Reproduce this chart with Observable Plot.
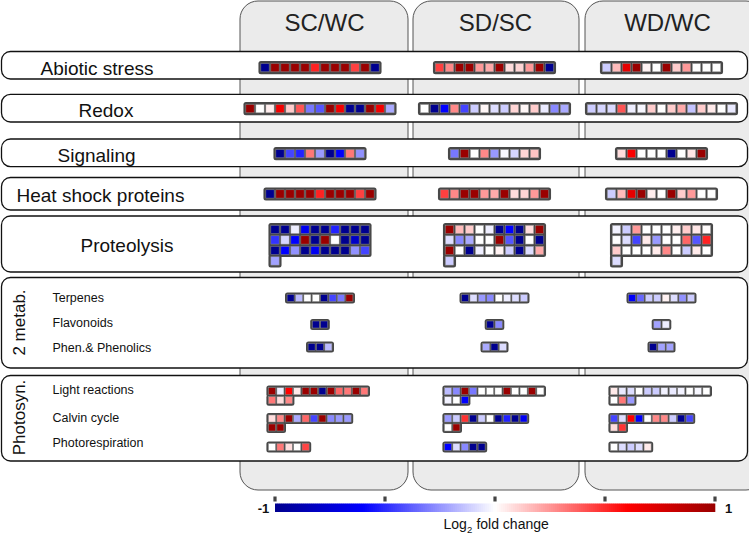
<!DOCTYPE html>
<html><head><meta charset="utf-8">
<script src="https://cdn.jsdelivr.net/npm/d3@7"></script>
<script src="https://cdn.jsdelivr.net/npm/@observablehq/plot@0.6"></script>
<style>body{margin:0;background:#fff;} svg{display:block;}</style>
</head><body><div id="chart"></div>
<script>
// ---------- data ----------
const columns = ["SC/WC", "SD/SC", "WD/WC"];
const categories = ["Abiotic stress", "Redox", "Signaling", "Heat shock proteins", "Proteolysis",
  "Terpenes", "Flavonoids", "Phen.& Phenolics", "Light reactions", "Calvin cycle", "Photorespiration"];
const groupLabels = ["2 metab.", "Photosyn."];
const colorTicks = [-1, -0.5, 0, 0.5, 1];
const colorTickLabels = ["-1", "1"];
const colorTitleParts = ["Log", "2", " fold change"];

// log2 fold change per gene, one array per comparison (SC/WC, SD/SC, WD/WC)
const abioticStress = [
  [-1, 1, 1, 1, 1, 0.52, 1, 1, 1, 0.45, 1, -1],
  [0.45, 0.28, 1, 1, 0.24, 0.2, 1, 0.08, 0.1, 0.24, 1, -1],
  [-0.12, 0.16, 0.7, 1, 0.03, 0, 1, 0.12, 0.24, 0, 0, 0]
];
const redox = [
  [1, 0, 0.04, 0.65, 0.12, 0.4, -0.32, -0.4, 1, 0.65, -1, -1, 1, 0.65, -0.2],
  [0, -1, -0.6, 0.28, -0.44, -0.12, 0.02, -0.08, -0.12, 0.1, 0.02, 0.12, -0.05, -0.28, -0.2],
  [-0.12, -0.1, -0.09, 0.4, -0.04, -0.02, 0.12, 0, 0.12, 0.2, -0.14, 0.12, 0.05, 0, -0.05]
];
const signaling = [
  [-1, -0.44, -0.52, 0.32, -0.24, -1, -0.62, 0.32, -0.26],
  [-0.32, 1, 0, 0.28, -0.24, -0.02, -0.1, 0.1, 0.14],
  [0.08, 0.62, 0, 0, 0, -1, 0, 0.06, 1]
];
const heatShockProteins = [
  [-1, 1, 1, 1, 1, 0.52, 1, 1, 1, 0.45, 1],
  [0.45, 0.28, 1, 1, 0.24, 0.2, 1, 0.08, 0.1, 0.24, 1],
  [-0.12, 0.16, 0.7, 1, 0.04, 0, 1, 0.12, 0.24, 0, 0]
];
const proteolysis = [
  [-1, -1, -0.04, -0.65, -1, -1, -0.52, -1, -1, -1,
   -0.48, -0.1, -0.6, 1, -1, 1, 0, -1, -0.8, -1,
   -1, -0.6, -0.26, -1, -0.65, -1, -1, -1, -0.26, -0.44,
   -0.22],
  [1, 0.16, 0.12, 0, -0.04, -1, -0.6, -1, 0.08, 1,
   -0.08, -0.28, -0.2, 0, 0, 1, -0.4, -1, 0, -1,
   1, 0, -1, -0.04, 0, 0.03, -0.12, -1, -0.08, 0.2,
   -0.12],
  [-0.03, -0.12, 0.24, 0, 0, 0, 0.04, 0.12, 0.06, 0.01,
   0, -0.08, -0.44, 0.05, -0.24, 0, 0, 0.36, -0.4, 0.52,
   0.12, 0, 0, 0, 0.05, 0.28, 0, -0.12, 0.05, 0,
   -0.08]
];
const terpenes = [
  [-1, -0.16, 0, 0, -1, -0.44, -0.32, 1],
  [-1, -0.08, -0.24, -0.28, 0, -0.04, -0.08, -0.12],
  [-0.62, -0.36, -0.12, -0.12, 0.03, -0.08, -0.26, -0.12]
];
const flavonoids = [[-1, -1], [-1, -0.28], [-0.22, -0.04]];
const phenolics = [[-1, -1, -0.16], [-0.2, -1, -0.08], [-1, -0.22, -0.22]];
const lightReactions = [
  [1, -0.04, 0.6, 0.05, 1, 1, -1, 1, 0.36, 0.32, 1, 0.32, 0.32, 0.08, 0.28],
  [-0.16, -0.28, 1, -0.32, 0, 0, 0, 1, 0, 0, 1, 0, -0.03, 0, -0.6],
  [0.05, -0.05, -0.08, 0, -0.12, -0.12, -0.03, -0.05, -0.03, 0, -0.02, 0, 0, 0.32, -0.24]
];
const calvinCycle = [
  [0.08, 0.28, 1, -0.2, 0.36, -0.44, 1, -0.28, -0.24, -0.24, 1, 1],
  [-0.24, -0.12, 0.48, -1, -0.12, 0, -1, -0.52, -1, -0.65, 0, 1],
  [-0.44, -0.08, 0.6, -0.6, 0, 0.28, 0.28, -0.12, -1, -0.44, 0.08, 0.48]
];
const photorespiration = [
  [0, 0.32, 0.08, 0, 0.44],
  [-0.6, -0.08, -0.28, -1, -1],
  [0, -0.08, -0.12, -0.08, 0.05]
];

// ---------- layout (positions/sizes only) ----------
const W = 749, H = 541;
const big = {pitch: 10, size: 8.3, rowPitch: 10.5, pad: 2.4};
const small = {pitch: 8.4, size: 7, rowPitch: 9, pad: 2.1};
const colCenters = [320, 494.5, 661.5];
const colLefts = [268.5, 444.5, 610.5];
const groups = [
  {values: abioticStress, top: 63.5, per: 99, s: big, align: "center"},
  {values: redox, top: 104.5, per: 99, s: big, align: "center"},
  {values: signaling, top: 149.5, per: 99, s: big, align: "center"},
  {values: heatShockProteins, top: 189.8, per: 99, s: big, align: "center"},
  {values: proteolysis, top: 225.3, per: 10, s: big, align: "center"},
  {values: terpenes, top: 294.5, per: 99, s: small, align: "center"},
  {values: flavonoids, top: 321, per: 99, s: small, align: "center"},
  {values: phenolics, top: 343.5, per: 99, s: small, align: "center"},
  {values: lightReactions, top: 387.7, per: 12, s: small, align: "left"},
  {values: calvinCycle, top: 415, per: 10, s: small, align: "left"},
  {values: photorespiration, top: 443.5, per: 5, s: small, align: "left"}
];

const cells = [], boxes = [];
groups.forEach(g => {
  g.values.forEach((vals, c) => {
    const n = vals.length, s = g.s;
    const per = Math.min(g.per, n);
    const gap = s.pitch - s.size;
    const width = per * s.pitch - gap;
    const left = g.align === "center" ? colCenters[c] - width / 2 : colLefts[c];
    const full = Math.floor(n / per), rem = n % per;
    boxes.push({x1: left - s.pad, x2: left + width + s.pad, y1: g.top - s.pad,
                y2: g.top + (full - 1) * s.rowPitch + s.size + s.pad});
    if (rem > 0) boxes.push({x1: left - s.pad, x2: left + rem * s.pitch - gap + s.pad,
                y1: g.top + (full - 1) * s.rowPitch + s.size,
                y2: g.top + full * s.rowPitch + s.size + s.pad});
    vals.forEach((v, i) => {
      const col = i % per, row = Math.floor(i / per);
      const x1 = left + col * s.pitch, y1 = g.top + row * s.rowPitch;
      cells.push({x1, x2: x1 + s.size, y1, y2: y1 + s.size, v, column: columns[c]});
    });
  });
});

const panels = columns.map((name, i) => ({name, x1: [240, 413, 585][i], x2: [408, 579, 764][i], y1: 1, y2: 490, cx: [324, 495, 667][i]}));
const rows = [
  {y1: 51.5, y2: 79}, {y1: 94.3, y2: 122}, {y1: 139, y2: 166.7}, {y1: 177.5, y2: 210},
  {y1: 216, y2: 272}, {y1: 277.5, y2: 368}, {y1: 375.5, y2: 461}
];
const bigLabels = [
  {t: categories[0], x: 40, y: 68}, {t: categories[1], x: 78, y: 110}, {t: categories[2], x: 57, y: 155},
  {t: categories[3], x: 16, y: 195}, {t: categories[4], x: 80, y: 245}
];
const smallLabels = [
  {t: categories[5], x: 52, y: 297}, {t: categories[6], x: 52, y: 322}, {t: categories[7], x: 52, y: 347},
  {t: categories[8], x: 52, y: 389}, {t: categories[9], x: 52, y: 417}, {t: categories[10], x: 52, y: 442}
];
const rotLabels = [{t: groupLabels[0], x: 19, y: 322}, {t: groupLabels[1], x: 19, y: 417}];

// colour bar
const barX0 = 275, barX1 = 715, barY0 = 503.5, barY1 = 512;
const bx = v => barX0 + (v + 1) / 2 * (barX1 - barX0);
const ramp = d3.range(0, 220).map(i => {
  const a = -1 + i * 2 / 220, b = -1 + (i + 1) * 2 / 220;
  return {x1: bx(a), x2: bx(b) + 0.3, v: (a + b) / 2};
});
const tickMarks = colorTicks.map(v => ({x: bx(v)}));
const titleX = 443;

const chart = Plot.plot({
  width: W, height: H, margin: 0,
  x: {domain: [0, W], range: [0, W], axis: null},
  y: {domain: [0, H], range: [0, H], axis: null},
  color: {type: "linear", domain: [-1, -0.6, 0, 0.6, 1],
          range: ["#00008f", "#0000ff", "#ffffff", "#ff0000", "#9a0000"], clamp: true},
  style: {fontFamily: "'Liberation Sans', Arial, sans-serif", background: "white"},
  marks: [
    Plot.rect(panels, {x1: "x1", x2: "x2", y1: "y1", y2: "y2", fill: "#ebebeb", stroke: "#555", strokeWidth: 1, rx: 18}),
    Plot.text(panels, {x: "cx", y: 23, text: "name", fontSize: 24, fill: "#222"}),
    Plot.rect(rows, {x1: 1.5, x2: 747.5, y1: "y1", y2: "y2", fill: "white", stroke: "#111", strokeWidth: 1.3, rx: 9}),
    Plot.text(bigLabels, {x: "x", y: "y", text: "t", textAnchor: "start", fontSize: 19, fill: "#111"}),
    Plot.text(smallLabels, {x: "x", y: "y", text: "t", textAnchor: "start", fontSize: 12.5, fill: "#111"}),
    Plot.text(rotLabels, {x: "x", y: "y", text: "t", rotate: -90, fontSize: 17, fill: "#111"}),
    Plot.rect(boxes, {x1: "x1", x2: "x2", y1: "y1", y2: "y2", fill: "#484848", rx: 2.5}),
    Plot.rect(cells, {x1: "x1", x2: "x2", y1: "y1", y2: "y2", fill: "v", stroke: "#8c8c8c", strokeWidth: 0.5}),
    Plot.rect(ramp, {x1: "x1", x2: "x2", y1: barY0, y2: barY1, fill: "v"}),
    Plot.rect(tickMarks, {x1: d => d.x - 1.6, x2: d => d.x + 1.6, y1: 496.5, y2: 501.5, fill: "#444"}),
    Plot.text([colorTickLabels[0]], {x: barX0 - 12, y: 508, text: d => d, fontSize: 13, fontWeight: "bold", fill: "#111"}),
    Plot.text([colorTickLabels[1]], {x: barX1 + 13, y: 508, text: d => d, fontSize: 13, fontWeight: "bold", fill: "#111"}),
    Plot.text([colorTitleParts[0]], {x: titleX, y: 524, text: d => d, textAnchor: "start", fontSize: 14, fill: "#111"}),
    Plot.text([colorTitleParts[1]], {x: titleX + 23.6, y: 529, text: d => d, textAnchor: "start", fontSize: 9.5, fill: "#111"}),
    Plot.text([colorTitleParts[2]], {x: titleX + 29, y: 524, text: d => d, textAnchor: "start", fontSize: 14, fill: "#111"})
  ]
});
document.getElementById("chart").appendChild(chart);
</script>
</body></html>
